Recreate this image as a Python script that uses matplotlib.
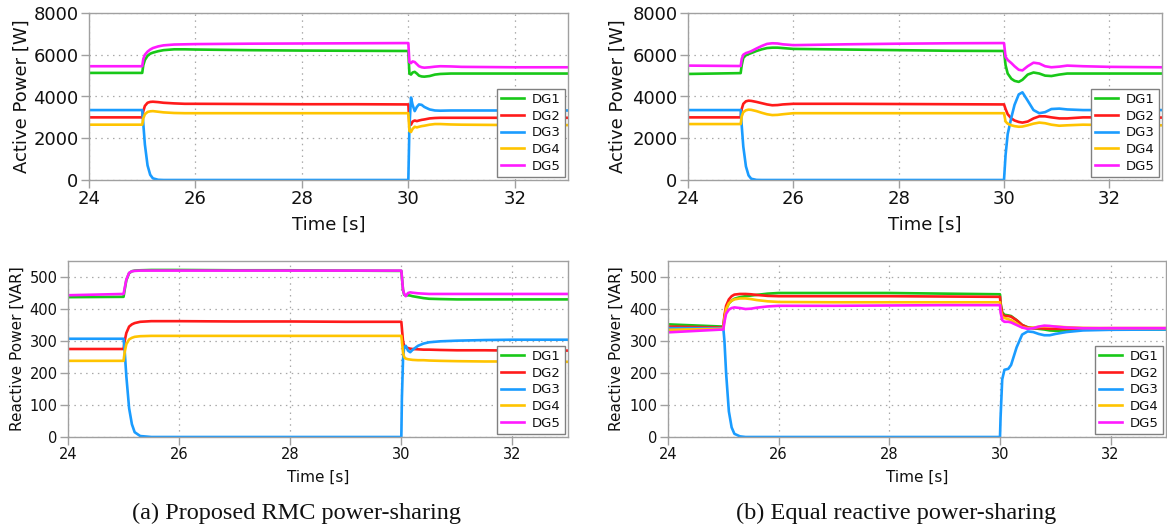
import matplotlib
matplotlib.use("Agg")
import matplotlib.pyplot as plt

# ---------------- DATA ----------------
names = ["DG1", "DG2", "DG3", "DG4", "DG5"]

# (a) active power [W]
t_pa = [24.0, 25.0, 25.02, 25.05, 25.1, 25.15, 25.2, 25.3, 25.4, 25.6, 25.8, 26.0, 27.0, 28.0, 29.0, 30.0,
        30.02, 30.05, 30.08, 30.12, 30.16, 30.2, 30.25, 30.3, 30.4, 30.5, 30.6, 30.8, 31.0, 31.5, 32.0, 33.0]
pa_dg1 = [5130, 5130, 5500, 5750, 5950, 6050, 6100, 6170, 6220, 6260, 6260, 6250, 6220, 6200, 6190, 6180,
          5100, 5050, 5150, 5180, 5100, 5000, 4960, 4950, 4980, 5050, 5080, 5100, 5100, 5100, 5100, 5100]
pa_dg2 = [3000, 3000, 3300, 3550, 3700, 3740, 3750, 3730, 3700, 3670, 3650, 3650, 3640, 3630, 3630, 3620,
          2700, 2650, 2800, 2850, 2820, 2850, 2880, 2900, 2950, 2970, 2980, 2980, 2980, 2980, 2980, 2980]
pa_dg3 = [3350, 3350, 2700, 1700, 700, 250, 80, 10, 0, 0, 0, 0, 0, 0, 0, 0,
          2500, 3950, 3600, 3300, 3500, 3620, 3600, 3500, 3380, 3330, 3320, 3330, 3330, 3330, 3330, 3330]
pa_dg4 = [2650, 2650, 2950, 3150, 3260, 3290, 3300, 3270, 3240, 3210, 3200, 3200, 3200, 3200, 3200, 3200,
          2350, 2300, 2450, 2550, 2520, 2550, 2580, 2600, 2650, 2680, 2680, 2660, 2650, 2640, 2630, 2630]
pa_dg5 = [5450, 5450, 5800, 6000, 6150, 6250, 6320, 6400, 6450, 6490, 6500, 6510, 6530, 6540, 6550, 6560,
          5650, 5600, 5680, 5650, 5550, 5450, 5400, 5380, 5400, 5430, 5450, 5440, 5420, 5410, 5400, 5400]

# (b) active power [W]
t_pb = [24.0, 25.0, 25.02, 25.05, 25.1, 25.15, 25.2, 25.3, 25.4, 25.5, 25.6, 25.7, 25.8, 26.0, 27.0, 28.0, 29.0, 30.0,
        30.03, 30.07, 30.14, 30.2, 30.28, 30.35, 30.45, 30.56, 30.67, 30.78, 30.9, 31.05, 31.2, 31.5, 32.0, 33.0]
pb_dg1 = [5080, 5120, 5500, 5850, 5980, 6030, 6080, 6180, 6260, 6320, 6340, 6340, 6320, 6280, 6250, 6220, 6190, 6180,
          5500, 5100, 4850, 4750, 4700, 4800, 5050, 5150, 5100, 5000, 4980, 5050, 5100, 5100, 5100, 5100]
pb_dg2 = [3000, 3000, 3400, 3650, 3770, 3800, 3790, 3740, 3680, 3620, 3580, 3590, 3620, 3650, 3650, 3640, 3630, 3620,
          3400, 3150, 2950, 2850, 2780, 2750, 2800, 2950, 3050, 3050, 3000, 2950, 2950, 3000, 3000, 2990]
pb_dg3 = [3350, 3350, 2600, 1600, 650, 220, 60, 5, 0, 0, 0, 0, 0, 0, 0, 0, 0, 0,
          1200, 2200, 3000, 3600, 4100, 4200, 3800, 3350, 3200, 3250, 3400, 3420, 3380, 3350, 3350, 3350]
pb_dg4 = [2680, 2680, 3050, 3250, 3340, 3370, 3360, 3300, 3220, 3150, 3110, 3120, 3150, 3200, 3200, 3200, 3200, 3200,
          2800, 2700, 2620, 2580, 2550, 2560, 2620, 2700, 2750, 2720, 2650, 2600, 2620, 2650, 2630, 2620]
pb_dg5 = [5480, 5460, 5800, 6000, 6080, 6120, 6170, 6300, 6420, 6520, 6550, 6540, 6500, 6460, 6500, 6530, 6550, 6560,
          5900, 5750, 5600, 5450, 5280, 5250, 5450, 5620, 5580, 5450, 5400, 5430, 5480, 5450, 5420, 5400]

# (a) reactive power [VAR]
t_qa = [24.0, 25.0, 25.02, 25.05, 25.1, 25.15, 25.2, 25.3, 25.5, 26.0, 27.0, 28.0, 29.0, 30.0,
        30.01, 30.03, 30.05, 30.08, 30.12, 30.16, 30.2, 30.3, 30.4, 30.5, 30.7, 31.0, 31.5, 32.0, 33.0]
qa_dg1 = [437, 438, 460, 490, 512, 518, 520, 521, 522, 522, 521, 521, 520, 519,
          500, 460, 445, 442, 443, 442, 440, 437, 434, 432, 431, 430, 430, 430, 430]
qa_dg2 = [275, 275, 300, 325, 345, 352, 356, 360, 362, 362, 361, 361, 360, 360,
          340, 300, 285, 280, 278, 276, 275, 274, 273, 273, 272, 271, 271, 270, 270]
qa_dg3 = [307, 307, 270, 190, 90, 40, 15, 3, 0, 0, 0, 0, 0, 0,
          120, 240, 280, 285, 270, 265, 272, 285, 292, 296, 299, 301, 303, 304, 304]
qa_dg4 = [238, 238, 265, 290, 305, 310, 313, 315, 316, 316, 316, 316, 316, 316,
          300, 265, 250, 245, 243, 242, 241, 240, 240, 239, 238, 237, 236, 236, 235]
qa_dg5 = [443, 447, 465, 492, 513, 518, 519, 520, 520, 520, 520, 520, 520, 520,
          500, 460, 448, 440, 450, 452, 451, 449, 448, 447, 447, 447, 447, 447, 447]

# (b) reactive power [VAR]
t_qb = [24.0, 25.0, 25.02, 25.05, 25.1, 25.15, 25.2, 25.3, 25.4, 25.5, 25.6, 25.8, 26.0, 27.0, 28.0, 29.0, 30.0,
        30.01, 30.04, 30.08, 30.15, 30.2, 30.3, 30.4, 30.5, 30.6, 30.7, 30.8, 30.9, 31.0, 31.2, 31.5, 32.0, 33.0]
qb_dg1 = [352, 345, 375, 400, 418, 426, 432, 437, 440, 442, 444, 448, 450, 450, 450, 448, 446,
          420, 390, 382, 380, 378, 365, 350, 343, 340, 338, 336, 333, 332, 333, 336, 337, 336]
qb_dg2 = [345, 342, 380, 410, 430, 440, 445, 447, 447, 446, 444, 441, 440, 440, 440, 439, 438,
          415, 385, 378, 378, 376, 365, 350, 342, 340, 340, 339, 338, 338, 338, 339, 340, 340]
qb_dg3 = [340, 340, 300, 200, 80, 30, 10, 2, 0, 0, 0, 0, 0, 0, 0, 0, 0,
          60, 180, 210, 213, 225, 280, 320, 330, 328, 322, 318, 318, 322, 328, 333, 335, 336]
qb_dg4 = [335, 338, 370, 400, 418, 426, 430, 433, 433, 431, 428, 424, 422, 421, 421, 421, 421,
          400, 375, 372, 368, 365, 355, 343, 340, 342, 344, 346, 346, 345, 343, 341, 340, 340]
qb_dg5 = [327, 336, 360, 385, 398, 403, 405, 403, 400, 401, 404, 408, 410, 410, 411, 412, 412,
          390, 365, 360, 360, 358, 350, 342, 338, 340, 345, 348, 347, 345, 342, 340, 340, 340]

x_ticks = [24, 26, 28, 30, 32]
p_ticks = [0, 2000, 4000, 6000, 8000]
q_ticks = [0, 100, 200, 300, 400, 500]
captions = ["(a) Proposed RMC power-sharing", "(b) Equal reactive power-sharing"]

# ---------------- STYLE ----------------
colors = ["#18c818", "#ff1a1a", "#1a9cff", "#ffc400", "#ff1aff"]
W, H = 1167, 529
TXT = "#111111"
plt.rcParams["font.family"] = ["DejaVu Sans"]

fig = plt.figure(figsize=(W / 100, H / 100), dpi=100)


def px_axes(l, t, r, b):
    return fig.add_axes([l / W, 1 - b / H, (r - l) / W, (b - t) / H])


def draw(ax, t, series, ylim, yticks, ylabel, tick_fs, label_fs, ylab_x, xlab_y, leg_fs):
    for vals, c, n in zip(series, colors, names):
        ax.plot(t, vals, color=c, lw=1.9, label=n, solid_joinstyle="round")
    ax.set_xlim(24, 33)
    ax.set_ylim(*ylim)
    ax.set_xticks(x_ticks)
    ax.set_yticks(yticks)
    ax.set_axisbelow(True)
    ax.grid(True, linestyle=(0, (1.2, 3.5)), color="#a8a8a8", linewidth=0.9)
    for s in ax.spines.values():
        s.set_color("#a0a0a0")
        s.set_linewidth(1.0)
    ax.tick_params(direction="out", length=5.5, width=1, color="#a0a0a0",
                   labelsize=tick_fs, labelcolor=TXT, pad=2)
    ax.set_xlabel("Time [s]", fontsize=label_fs, color=TXT)
    ax.set_ylabel(ylabel, fontsize=label_fs, color=TXT)
    ax.xaxis.set_label_coords(0.5, xlab_y)
    ax.xaxis.label.set_va("center")
    ax.yaxis.set_label_coords(ylab_x, 0.5)
    ax.yaxis.label.set_va("center")
    leg = ax.legend(loc="lower right", fontsize=leg_fs, frameon=True, fancybox=False,
                    edgecolor="#808080", framealpha=1, borderpad=0.3, labelspacing=0.28,
                    handlelength=1.75, handletextpad=0.6, borderaxespad=0.25)
    leg.get_frame().set_linewidth(1.0)
    for tx in leg.get_texts():
        tx.set_color(TXT)


ax1 = px_axes(89, 13, 568, 180)
draw(ax1, t_pa, [pa_dg1, pa_dg2, pa_dg3, pa_dg4, pa_dg5], (0, 8000), p_ticks,
     "Active Power [W]", 13, 13, -0.14, -0.27, 9.5)

ax2 = px_axes(688, 13, 1162, 180)
draw(ax2, t_pb, [pb_dg1, pb_dg2, pb_dg3, pb_dg4, pb_dg5], (0, 8000), p_ticks,
     "Active Power [W]", 13, 13, -0.148, -0.27, 9.5)

ax3 = px_axes(68, 261, 568, 437)
draw(ax3, t_qa, [qa_dg1, qa_dg2, qa_dg3, qa_dg4, qa_dg5], (0, 550), q_ticks,
     "Reactive Power [VAR]", 10.5, 11, -0.102, -0.227, 9.5)

ax4 = px_axes(668, 261, 1166, 437)
draw(ax4, t_qb, [qb_dg1, qb_dg2, qb_dg3, qb_dg4, qb_dg5], (0, 550), q_ticks,
     "Reactive Power [VAR]", 10.5, 11, -0.104, -0.227, 9.5)

fig.text(296 / W, 1 - 513 / H, captions[0], ha="center", va="center",
         fontsize=17.5, family=["Liberation Serif", "DejaVu Serif"], color=TXT)
fig.text(896 / W, 1 - 513 / H, captions[1], ha="center", va="center",
         fontsize=17.5, family=["Liberation Serif", "DejaVu Serif"], color=TXT)

fig.savefig("out.png", dpi=100)
